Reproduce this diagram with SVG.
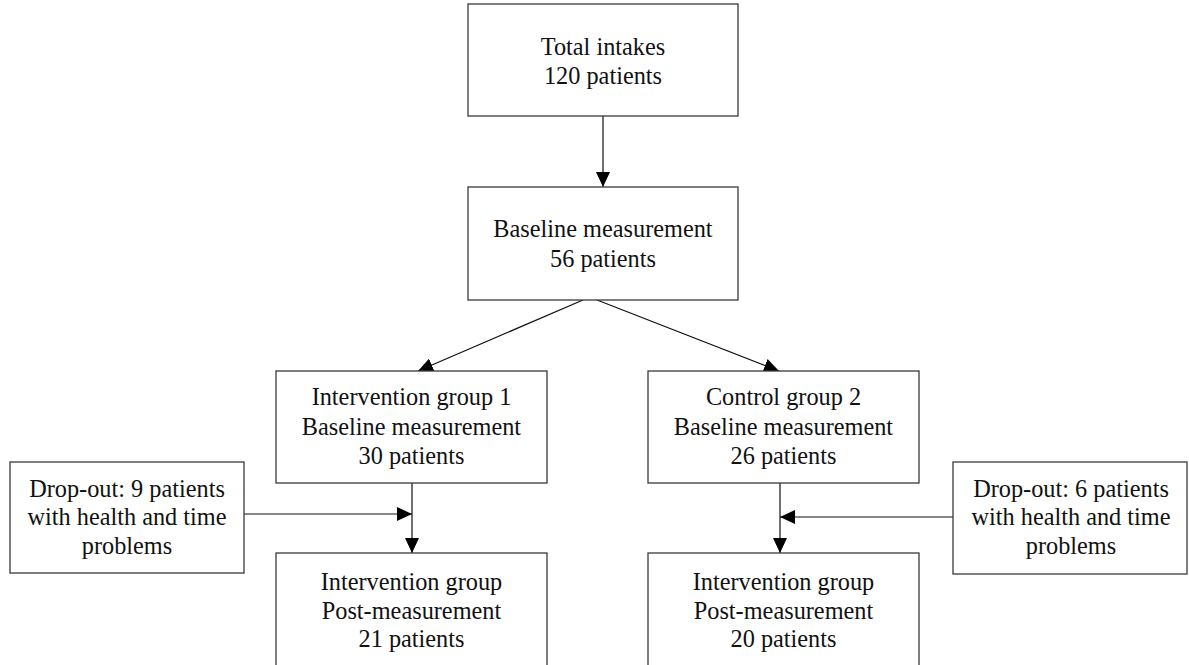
<svg xmlns="http://www.w3.org/2000/svg" width="1189" height="665" viewBox="0 0 1189 665">
<style>
.box{fill:#fff;stroke:#3a3a3a;stroke-width:1.3}
.t{font-family:"Liberation Serif","DejaVu Serif",serif;font-size:24.3px;fill:#111;text-anchor:middle}
.c{stroke:#111;stroke-width:1.2;fill:none;marker-end:url(#ah)}
</style>
<defs>
<marker id="ah" markerUnits="userSpaceOnUse" markerWidth="16" markerHeight="14" refX="15" refY="7" orient="auto">
<path d="M0,0 L15,7 L0,14 Z" fill="#000"/>
</marker>
</defs>
<rect width="1189" height="665" fill="#fff"/>
<g id="connectors">
<line class="c" x1="603" y1="116" x2="603" y2="187"/>
<line class="c" x1="583" y1="300" x2="418" y2="371"/>
<line class="c" x1="597" y1="300" x2="779" y2="371"/>
<line class="c" x1="412" y1="483" x2="412" y2="553"/>
<line class="c" x1="244" y1="514" x2="412" y2="514"/>
<line class="c" x1="780" y1="483" x2="780" y2="553"/>
<line class="c" x1="953" y1="517" x2="780" y2="517"/>
</g>
<g id="total">
<rect class="box" x="468" y="4" width="270" height="112"/>
<text class="t" x="603" y="55">Total intakes</text>
<text class="t" x="603" y="84">120 patients</text>
</g>
<g id="baseline">
<rect class="box" x="468" y="187" width="270" height="113"/>
<text class="t" x="603" y="237">Baseline measurement</text>
<text class="t" x="603" y="267">56 patients</text>
</g>
<g id="intervention1">
<rect class="box" x="276" y="371" width="271" height="112"/>
<text class="t" x="411.5" y="405">Intervention group 1</text>
<text class="t" x="411.5" y="435">Baseline measurement</text>
<text class="t" x="411.5" y="464">30 patients</text>
</g>
<g id="control2">
<rect class="box" x="648" y="371" width="271" height="112"/>
<text class="t" x="783.5" y="405">Control group 2</text>
<text class="t" x="783.5" y="435">Baseline measurement</text>
<text class="t" x="783.5" y="464">26 patients</text>
</g>
<g id="dropout1">
<rect class="box" x="10" y="462" width="234" height="111"/>
<text class="t" x="127" y="497">Drop-out: 9 patients</text>
<text class="t" x="127" y="525">with health and time</text>
<text class="t" x="127" y="554">problems</text>
</g>
<g id="dropout2">
<rect class="box" x="953" y="462" width="234" height="112"/>
<text class="t" x="1071" y="497">Drop-out: 6 patients</text>
<text class="t" x="1071" y="525">with health and time</text>
<text class="t" x="1071" y="554">problems</text>
</g>
<g id="post1">
<rect class="box" x="276" y="553" width="271" height="130"/>
<text class="t" x="411.5" y="590">Intervention group</text>
<text class="t" x="411.5" y="619">Post-measurement</text>
<text class="t" x="411.5" y="647">21 patients</text>
</g>
<g id="post2">
<rect class="box" x="648" y="553" width="271" height="130"/>
<text class="t" x="783.5" y="590">Intervention group</text>
<text class="t" x="783.5" y="619">Post-measurement</text>
<text class="t" x="783.5" y="647">20 patients</text>
</g>
</svg>
